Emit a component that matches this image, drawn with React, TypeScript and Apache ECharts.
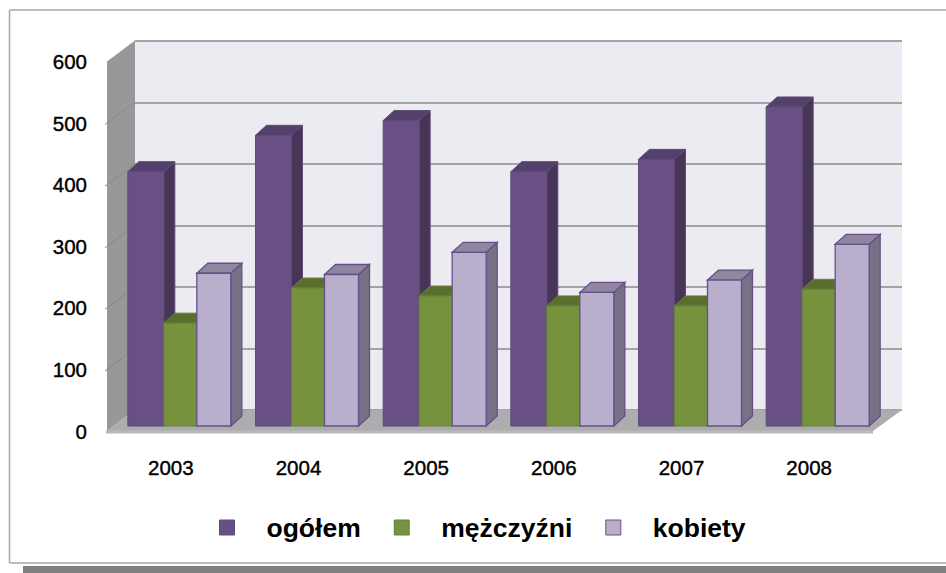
import React, { useEffect, useRef } from "react";
import * as echarts from "echarts";

const years = ["2003", "2004", "2005", "2006", "2007", "2008"];
const ogolem = [413, 472, 496, 413, 433, 518];
const mezczyzni = [167, 224, 211, 195, 195, 222];
const kobiety = [248, 246, 282, 217, 237, 295];

const FONT = '"Liberation Sans", Arial, sans-serif';
const DEPTH_X = 11;
const DEPTH_Y = 10;
const PLANE_Y = 5;

const makeBar = (off: number, w: number, c: { front: string; side: string; top: string; line: string; lw: number }) =>
  (params: any, api: any) => {
    const idx = api.value(0);
    const top = api.coord([idx, api.value(1)]);
    const base = api.coord([idx, 0]);
    const x0 = top[0] + off;
    const x1 = x0 + w;
    const y0 = top[1] - PLANE_Y;
    const y1 = base[1] - PLANE_Y;
    const stroke = { stroke: c.line, lineWidth: c.lw };
    return {
      type: "group",
      children: [
        {
          type: "polygon",
          shape: { points: [[x1, y0], [x1 + DEPTH_X, y0 - DEPTH_Y], [x1 + DEPTH_X, y1 - DEPTH_Y], [x1, y1]] },
          style: { fill: c.side, ...stroke },
        },
        {
          type: "polygon",
          shape: { points: [[x0, y0], [x0 + DEPTH_X, y0 - DEPTH_Y], [x1 + DEPTH_X, y0 - DEPTH_Y], [x1, y0]] },
          style: { fill: c.top, ...stroke },
        },
        { type: "rect", shape: { x: x0, y: y0, width: w, height: y1 - y0 }, style: { fill: c.front, ...stroke } },
      ],
    };
  };

const renderWalls = (params: any, api: any) => {
  const cs = params.coordSys;
  const dx = 28;
  const dy = 21;
  const l = cs.x;
  const r = cs.x + cs.width;
  const t = api.coord([0, 600])[1];
  const b = api.coord([0, 0])[1];
  const ticks = [100, 200, 300, 400, 500].map((v) => {
    const y = api.coord([0, v])[1];
    return {
      type: "line",
      shape: { x1: l - 2, y1: y + 1.5, x2: l + dx, y2: y - dy },
      style: { stroke: "#88888b", lineWidth: 1 },
    };
  });
  return {
    type: "group",
    children: [
      {
        type: "polygon",
        shape: { points: [[l, t], [l + dx, t - dy], [l + dx, b - dy], [l, b]] },
        style: { fill: "#98989b" },
      },
      ...ticks,
      {
        type: "polygon",
        shape: { points: [[l, b], [l + dx, b - dy], [r + dx + 1, b - dy], [r, b]] },
        style: { fill: "#adadb0" },
      },
      {
        type: "line",
        shape: { x1: l - 1, y1: b + 1, x2: r, y2: b + 1 },
        style: { stroke: "#b9b9bb", lineWidth: 3 },
      },
    ],
  };
};

export default function App() {
  const ref = useRef<HTMLDivElement>(null);
  useEffect(() => {
    document.body.style.margin = "0";
    const chart = echarts.init(ref.current!, undefined, { renderer: "svg" });
    const bar = (name: string, values: number[], off: number, w: number, c: any) => ({
      type: "custom",
      name,
      xAxisIndex: 0,
      yAxisIndex: 0,
      z: 5,
      itemStyle: { color: c.front, borderColor: c.line },
      encode: { x: 0, y: 1 },
      data: values.map((v, i) => [i, v]),
      renderItem: makeBar(off, w, c),
    });
    const tickLabel = {
      color: "#000",
      fontFamily: FONT,
      fontSize: 20.5,
      textBorderColor: "#000",
      textBorderWidth: 0.4,
    };
    chart.setOption({
      animation: false,
      backgroundColor: "#ffffff",
      grid: [
        { left: 107, top: 61.5, width: 766, height: 369.5, containLabel: false },
        {
          left: 135,
          top: 41,
          width: 767,
          height: 369,
          show: true,
          backgroundColor: "#ecebf1",
          borderWidth: 0,
        },
      ],
      xAxis: [
        {
          type: "category",
          gridIndex: 0,
          data: years,
          axisLine: { show: false },
          axisTick: { show: false },
          axisLabel: { ...tickLabel, margin: 26 },
        },
        { type: "category", gridIndex: 1, data: years, show: false },
      ],
      yAxis: [
        {
          type: "value",
          gridIndex: 0,
          min: 0,
          max: 600,
          interval: 100,
          axisLine: { show: false },
          axisTick: { show: false },
          splitLine: { show: false },
          axisLabel: { ...tickLabel, margin: 20 },
        },
        {
          type: "value",
          gridIndex: 1,
          min: 0,
          max: 600,
          interval: 100,
          axisLine: { show: false },
          axisTick: { show: false },
          axisLabel: { show: false },
          splitLine: { show: true, lineStyle: { color: "#a3a3a3", width: 2 } },
        },
      ],
      legend: {
        data: ["ogółem", "mężczyźni", "kobiety"],
        left: 214,
        top: 509,
        icon: "rect",
        itemWidth: 15,
        itemHeight: 15,
        itemGap: 33,
        itemStyle: { borderWidth: 1 },
        textStyle: { color: "#000", fontFamily: FONT, fontWeight: "bold", fontSize: 26.5, padding: [0, 0, 0, 27] },
        selectedMode: false,
      },
      graphic: [
        { type: "line", shape: { x1: 9.5, y1: 10, x2: 946, y2: 10 }, style: { stroke: "#a6a6a6", lineWidth: 1.5 } },
        { type: "line", shape: { x1: 9.5, y1: 10, x2: 9.5, y2: 563 }, style: { stroke: "#a6a6a6", lineWidth: 1.5 } },
        { type: "line", shape: { x1: 9.5, y1: 563, x2: 946, y2: 563 }, style: { stroke: "#a6a6a6", lineWidth: 1.5 } },
        { type: "rect", shape: { x: 23, y: 566, width: 923, height: 7 }, style: { fill: "#808080" } },
      ],
      series: [
        {
          type: "custom",
          xAxisIndex: 0,
          yAxisIndex: 0,
          z: 2,
          silent: true,
          data: [[0, 0]],
          renderItem: renderWalls,
        },
        bar("ogółem", ogolem, -43, 36, { front: "#684f84", side: "#463556", top: "#54406d", line: "#5f4a78", lw: 1 }),
        bar("mężczyźni", mezczyzni, -7, 33, { front: "#76923c", side: "#5a6f2e", top: "#5a6f2e", line: "#66803a", lw: 1 }),
        bar("kobiety", kobiety, 26, 34, { front: "#b9aecb", side: "#787086", top: "#8f869f", line: "#66508a", lw: 1.3 }),
      ],
    });
    return () => chart.dispose();
  }, []);
  return <div ref={ref} style={{ width: 946, height: 573 }} />;
}
